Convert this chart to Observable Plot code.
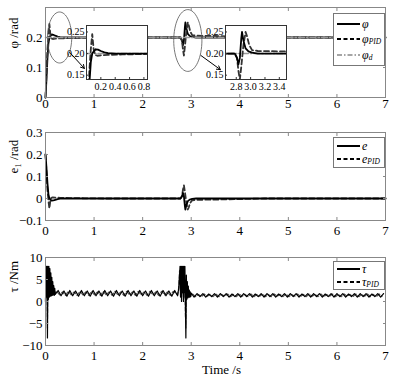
<!DOCTYPE html>
<html><head><meta charset="utf-8">
<script src="https://cdn.jsdelivr.net/npm/d3@7"></script>
<script src="https://cdn.jsdelivr.net/npm/@observablehq/plot@0.6"></script>
<style>
body{margin:0;background:#fff;}
#wrap{position:relative;width:415px;height:381px;font-family:"Liberation Serif","Times New Roman",serif;overflow:hidden;background:#fff;}
.pan{position:absolute;left:0;}
.leg{position:absolute;background:#fff;border:1px solid #777;box-sizing:border-box;}
.row{position:absolute;left:3px;height:12px;display:flex;align-items:center;}
.row svg{display:block}
.lab{font-style:italic;font-size:12px;margin-left:2px;line-height:1;white-space:nowrap;}
.lab sub{font-size:7.5px;vertical-align:-1px;line-height:1;}
</style></head>
<body><div id="wrap"></div>
<script>
const SERIF = '"Liberation Serif", "Times New Roman", serif';

// ---------- panel 1 : attitude angle ----------
const phiT    = [0, 0.02, 0.04, 0.06, 0.08, 0.1, 0.13, 0.16, 0.2, 0.25, 0.3, 0.4, 0.5, 2.78, 2.81, 2.83, 2.85, 2.87, 2.88, 2.9, 2.93, 2.97, 3.02, 3.1, 7];
const phiV    = [0, 0.06, 0.13, 0.18, 0.2, 0.205, 0.21, 0.209, 0.206, 0.203, 0.201, 0.2, 0.2, 0.2, 0.19, 0.175, 0.19, 0.235, 0.25, 0.23, 0.212, 0.205, 0.202, 0.2, 0.2];
const phiPidT = [0, 0.02, 0.04, 0.06, 0.08, 0.1, 0.12, 0.15, 0.2, 0.3, 0.5, 0.8, 1.2, 2.78, 2.81, 2.83, 2.85, 2.87, 2.9, 2.93, 2.95, 2.98, 3.02, 3.1, 3.5, 4.5, 7];
const phiPidV = [0, 0.08, 0.16, 0.21, 0.245, 0.21, 0.197, 0.195, 0.196, 0.197, 0.198, 0.199, 0.2, 0.2, 0.19, 0.16, 0.14, 0.17, 0.22, 0.25, 0.24, 0.22, 0.208, 0.206, 0.205, 0.2, 0.2];
const phiDT   = [0, 7];
const phiDV   = [0.2, 0.2];

// ---------- panel 2 : tracking error ----------
const eT    = [0, 0.02, 0.04, 0.06, 0.08, 0.1, 0.13, 0.16, 0.2, 0.25, 0.3, 0.4, 2.78, 2.81, 2.83, 2.85, 2.87, 2.88, 2.9, 2.93, 2.97, 3.02, 3.1, 7];
const eV    = [0.2, 0.14, 0.07, 0.02, 0, -0.005, -0.01, -0.009, -0.006, -0.003, -0.001, 0, 0, 0.01, 0.025, 0.01, -0.035, -0.05, -0.03, -0.012, -0.005, -0.002, 0, 0];
const ePidT = [0, 0.02, 0.04, 0.06, 0.08, 0.1, 0.12, 0.15, 0.2, 0.3, 0.5, 0.8, 1.2, 2.78, 2.81, 2.83, 2.85, 2.87, 2.9, 2.93, 2.95, 2.98, 3.02, 3.1, 3.5, 4.5, 7];
const ePidV = [0.2, 0.12, 0.04, -0.01, -0.045, -0.01, 0.003, 0.005, 0.004, 0.003, 0.002, 0.001, 0, 0, 0.01, 0.04, 0.06, 0.03, -0.02, -0.05, -0.04, -0.02, -0.008, -0.006, -0.005, 0, 0];

// ---------- panel 3 : control torque (sampled segments: start, step, values) ----------
const tau1Start = 0,    tau1Step = 0.01, tau1 = [0, 8, 1, 8, -8.3, 8, 0.5, 8, 1, 7.5, 1.2, 6.5, 1.3, 5.5, 1.4, 4.5, 1.5, 3.6, 1.4, 3, 1.6];
const tau2Start = 0.26, tau2Step = 0.06, tau2 = [2.5,1.3,2.4,1.2,2.5,1.3,2.4,1.2,2.5,1.3, 2.4,1.2,2.5,1.3,2.4,1.2,2.5,1.3,2.4,1.2, 2.5,1.3,2.4,1.2,2.5,1.3,2.4,1.2,2.5,1.3, 2.4,1.2,2.5,1.3,2.4,1.2,2.5,1.3,2.4,1.2, 2.5];
const tau3Start = 2.72, tau3Step = 0.01, tau3 = [1.3, 2.2, 2.6, 4, 6, 8, 1, 8, 0, 8, 2, 8, 0, 8, 2, 8, 0, -8.3, 6, 0.5, 4.5, 0.8, 3.5, 1, 2.6, 1, 2.2, 1.1, 1.9];
const tau4Start = 3.06, tau4Step = 0.06, tau4 = [1.0,1.8,1.1,1.8,1.0,1.7,1.1,1.8,1.0,1.8, 1.1,1.8,1.0,1.7,1.1,1.8,1.0,1.8,1.1,1.8, 1.0,1.7,1.1,1.8,1.0,1.8,1.1,1.8,1.0,1.7, 1.1,1.8,1.0,1.8,1.1,1.8,1.0,1.7,1.1,1.8, 1.0,1.8,1.1,1.8,1.0,1.7,1.1,1.8,1.0,1.8, 1.1,1.8,1.0,1.7,1.1,1.8,1.0,1.8,1.1,1.8, 1.0,1.7,1.1,1.8,1.0,1.8];
const tauP1Start = 0,    tauP1 = [0, 7, 2, 8, -6, 7, 1, 6.5, 1.5, 6, 1.5, 5, 1.6, 4.2, 1.6, 3.5, 1.7, 2.9, 1.6, 2.5, 1.8];
const tauP2Start = 0.23, tauP2 = [2.3,1.5,2.2,1.4,2.3,1.5,2.2,1.4,2.3,1.5, 2.2,1.4,2.3,1.5,2.2,1.4,2.3,1.5,2.2,1.4, 2.3,1.5,2.2,1.4,2.3,1.5,2.2,1.4,2.3,1.5, 2.2,1.4,2.3,1.5,2.2,1.4,2.3,1.5,2.2,1.4, 2.3];
const tauP3Start = 2.72, tauP3 = [1.5, 2.0, 3, 5, 7, 6, 2, 7, 1, 7, 2, 6, 1, 7, 1, 5, -3, -6, 4, 1, 3.5, 1, 3, 1.2, 2.4, 1.2, 2, 1.3, 1.8];
const tauP4Start = 3.03, tauP4 = [1.7,1.1,1.6,1.1,1.7,1.2,1.6,1.1,1.7,1.1, 1.6,1.2,1.7,1.1,1.6,1.1,1.7,1.2,1.6,1.1, 1.7,1.1,1.6,1.2,1.7,1.1,1.6,1.1,1.7,1.2, 1.6,1.1,1.7,1.1,1.6,1.2,1.7,1.1,1.6,1.1, 1.7,1.2,1.6,1.1,1.7,1.1,1.6,1.2,1.7,1.1, 1.6,1.1,1.7,1.2,1.6,1.1,1.7,1.1,1.6,1.2, 1.7,1.1,1.6,1.1,1.7,1.2];

// ---------- ticks ----------
const xTicks = [0, 1, 2, 3, 4, 5, 6, 7];
const xInner = [1, 2, 3, 4, 5, 6];
const phiTicks = [0, 0.1, 0.2];
const phiInner = [0.1, 0.2];
const eTicks = [-0.1, 0, 0.1, 0.2, 0.3];
const eInner = [0, 0.1, 0.2];
const tauTicks = [-10, -5, 0, 5, 10];
const tauInner = [-5, 0, 5];
const inset1XTicks = [0.2, 0.4, 0.6, 0.8];
const inset2XTicks = [2.8, 3.0, 3.2, 3.4];
const insetYTicks = [0.15, 0.2, 0.25];

// ---------- annotation shapes (data units) ----------
const ellipses = [{cx: 0.29, cy: 0.2, rx: 0.25, ry: 0.085}, {cx: 2.93, cy: 0.19, rx: 0.29, ry: 0.103}];
const arrows = [{x1: 0.5, y1: 0.15, x2: 0.8, y2: 0.097}, {x1: 3.2, y1: 0.14, x2: 3.6, y2: 0.093}];

// ---------- build tables ----------
const zip = (T, V) => T.map((t, i) => ({t, v: V[i]}));
const seg = (start, step, vals) => vals.map((v, i) => ({t: +(start + i * step).toFixed(4), v}));
const phi = zip(phiT, phiV), phiPid = zip(phiPidT, phiPidV), phiD = zip(phiDT, phiDV);
const eS = zip(eT, eV), ePid = zip(ePidT, ePidV);
const tau = [...seg(tau1Start, tau1Step, tau1), ...seg(tau2Start, tau2Step, tau2), ...seg(tau3Start, tau3Step, tau3), ...seg(tau4Start, tau4Step, tau4)];
const tauPid = [...seg(tauP1Start, tau1Step, tauP1), ...seg(tauP2Start, tau2Step, tauP2), ...seg(tauP3Start, tau3Step, tauP3), ...seg(tauP4Start, tau4Step, tauP4)];
const ellPts = ellipses.flatMap((e, k) => d3.range(0, 64).map(i => {
  const a = i / 64 * 2 * Math.PI; return {k, x: e.cx + e.rx * Math.cos(a), y: e.cy + e.ry * Math.sin(a)};
}));

const fmt = d => d < 0 ? "\u2212" + Math.abs(d) : String(d);
const FRAME = "#888";

function axes(xPad, yTicks, yInner, yFmt) {
  return [
    Plot.axisX(xTicks, {anchor: "bottom", tickSize: 0, tickPadding: xPad, label: null, tickFormat: fmt, fill: "#000", fontFamily: SERIF}),
    Plot.axisX(xInner, {anchor: "bottom", tickSize: -3, fill: "none", stroke: FRAME, label: null}),
    Plot.axisX(xInner, {anchor: "top", tickSize: -3, fill: "none", stroke: FRAME, label: null}),
    Plot.axisY(yTicks, {anchor: "left", tickSize: 0, tickPadding: 3, label: null, tickFormat: yFmt, fill: "#000", fontFamily: SERIF}),
    Plot.axisY(yInner, {anchor: "left", tickSize: -3, fill: "none", stroke: FRAME, label: null}),
    Plot.axisY(yInner, {anchor: "right", tickSize: -3, fill: "none", stroke: FRAME, label: null})
  ];
}
const style = {fontFamily: SERIF, fontSize: "13px", background: "transparent", color: "#000"};
const wrap = document.getElementById("wrap");
function place(el, left, top) { el.classList.add("pan"); el.style.left = left + "px"; el.style.top = top + "px"; wrap.appendChild(el); }

const lineSolid = {x: "t", y: "v", stroke: "#000", strokeWidth: 1.8};
const lineDash = {x: "t", y: "v", stroke: "#333", strokeWidth: 1.8, strokeDasharray: "5,3"};
const lineDD = {x: "t", y: "v", stroke: "#999", strokeWidth: 1.5, strokeDasharray: "6,2,1.5,2"};
const ylab = (txt, dy) => Plot.text([txt], {frameAnchor: "left", rotate: -90, dx: -32, dy, fontSize: 13, fill: "#000", fontFamily: SERIF});

// Panel 1
place(Plot.plot({
  width: 415, height: 122, marginLeft: 45, marginRight: 30, marginTop: 7, marginBottom: 25,
  x: {domain: [0, 7]}, y: {domain: [0, 0.3]}, style,
  marks: [
    Plot.line(phi, lineSolid),
    Plot.line(phiPid, lineDash),
    Plot.line(phiD, lineDD),
    Plot.line(ellPts, {x: "x", y: "y", z: "k", curve: "linear-closed", stroke: "#555", strokeWidth: 0.8}),
    Plot.arrow(arrows, {x1: "x1", y1: "y1", x2: "x2", y2: "y2", stroke: "#000", strokeWidth: 1, headLength: 6}),
    Plot.frame({stroke: FRAME}),
    ...axes(1, phiTicks, phiInner, fmt),
    ylab("\u03c6 /rad", -4)
  ]
}), 0, 0);

// insets
function inset(domain, xt, left) {
  return place(Plot.plot({
    width: 100, height: 72, marginLeft: 30, marginRight: 9, marginTop: 2, marginBottom: 16,
    x: {domain}, y: {domain: [0.14, 0.265]},
    style: {fontFamily: SERIF, fontSize: "10px", background: "transparent", color: "#000"},
    marks: [
      Plot.frame({fill: "#fff", stroke: "none"}),
      Plot.line(phiD, {...lineDD, clip: true}),
      Plot.line(phiPid, {...lineDash, clip: true}),
      Plot.line(phi, {...lineSolid, clip: true}),
      Plot.frame({stroke: "#333"}),
      Plot.axisX(xt, {anchor: "bottom", tickSize: 0, tickPadding: 3, label: null, tickFormat: d => d.toFixed(1), fill: "#000", fontFamily: SERIF}),
      Plot.axisX(xt, {anchor: "bottom", tickSize: -2, fill: "none", stroke: "#333", label: null}),
      Plot.axisY(insetYTicks, {anchor: "left", tickSize: 0, tickPadding: 2, label: null, tickFormat: d => d.toFixed(2), fill: "#000", fontFamily: SERIF}),
      Plot.axisY(insetYTicks, {anchor: "left", tickSize: -2, fill: "none", stroke: "#333", label: null})
    ]
  }), left, 23);
}
inset([0, 0.85], inset1XTicks, 56);
inset([2.65, 3.5], inset2XTicks, 195);

// Panel 2
place(Plot.plot({
  width: 415, height: 115, marginLeft: 45, marginRight: 30, marginTop: 7, marginBottom: 20,
  x: {domain: [0, 7]}, y: {domain: [-0.1, 0.3]}, style,
  marks: [
    Plot.line(ePid, lineDash),
    Plot.line(eS, lineSolid),
    Plot.frame({stroke: FRAME}),
    ...axes(5, eTicks, eInner, fmt),
    ylab("e\u2081 /rad", -3)
  ]
}), 0, 125);

// Panel 3
place(Plot.plot({
  width: 415, height: 131, marginLeft: 45, marginRight: 30, marginTop: 7, marginBottom: 36,
  x: {domain: [0, 7]}, y: {domain: [-10, 10]}, style,
  marks: [
    Plot.line(tauPid, {x: "t", y: "v", stroke: "#555", strokeWidth: 1.2, strokeDasharray: "4,2"}),
    Plot.line(tau, {x: "t", y: "v", stroke: "#000", strokeWidth: 1.2}),
    Plot.frame({stroke: FRAME}),
    ...axes(5, tauTicks, tauInner, fmt),
    ylab("\u03c4 /Nm", -9),
    Plot.text(["Time /s"], {frameAnchor: "bottom", dx: 6, dy: 28, fontSize: 13, fill: "#000", fontFamily: SERIF})
  ]
}), 0, 250);

// legends
function legend(left, top, w, h, rows) {
  const d = document.createElement("div");
  d.className = "leg";
  Object.assign(d.style, {left: left + "px", top: top + "px", width: w + "px", height: h + "px"});
  rows.forEach(r => {
    const row = document.createElement("div");
    row.className = "row";
    row.style.top = (r.y - 6) + "px";
    row.innerHTML = `<svg width="23" height="6"><line x1="0" y1="3" x2="23" y2="3" stroke="${r.c}" stroke-width="${r.w}" ${r.dash ? `stroke-dasharray="${r.dash}"` : ""}/></svg><span class="lab">${r.html}</span>`;
    d.appendChild(row);
  });
  wrap.appendChild(d);
}
legend(333, 13, 52, 53, [
  {y: 10, c: "#000", w: 2, dash: null, html: "\u03c6"},
  {y: 25, c: "#000", w: 2, dash: "4,2.5", html: "\u03c6<sub>PID</sub>"},
  {y: 41, c: "#888", w: 1.5, dash: "5,2,1.5,2", html: "\u03c6<sub>d</sub>"}
]);
legend(333, 137, 52, 31, [
  {y: 8, c: "#000", w: 2, dash: null, html: "e"},
  {y: 21, c: "#000", w: 2, dash: "4,2.5", html: "e<sub>PID</sub>"}
]);
legend(333, 261, 52, 29, [
  {y: 7, c: "#000", w: 2, dash: null, html: "\u03c4"},
  {y: 20, c: "#000", w: 2, dash: "4,2.5", html: "\u03c4<sub>PID</sub>"}
]);
</script></body></html>
